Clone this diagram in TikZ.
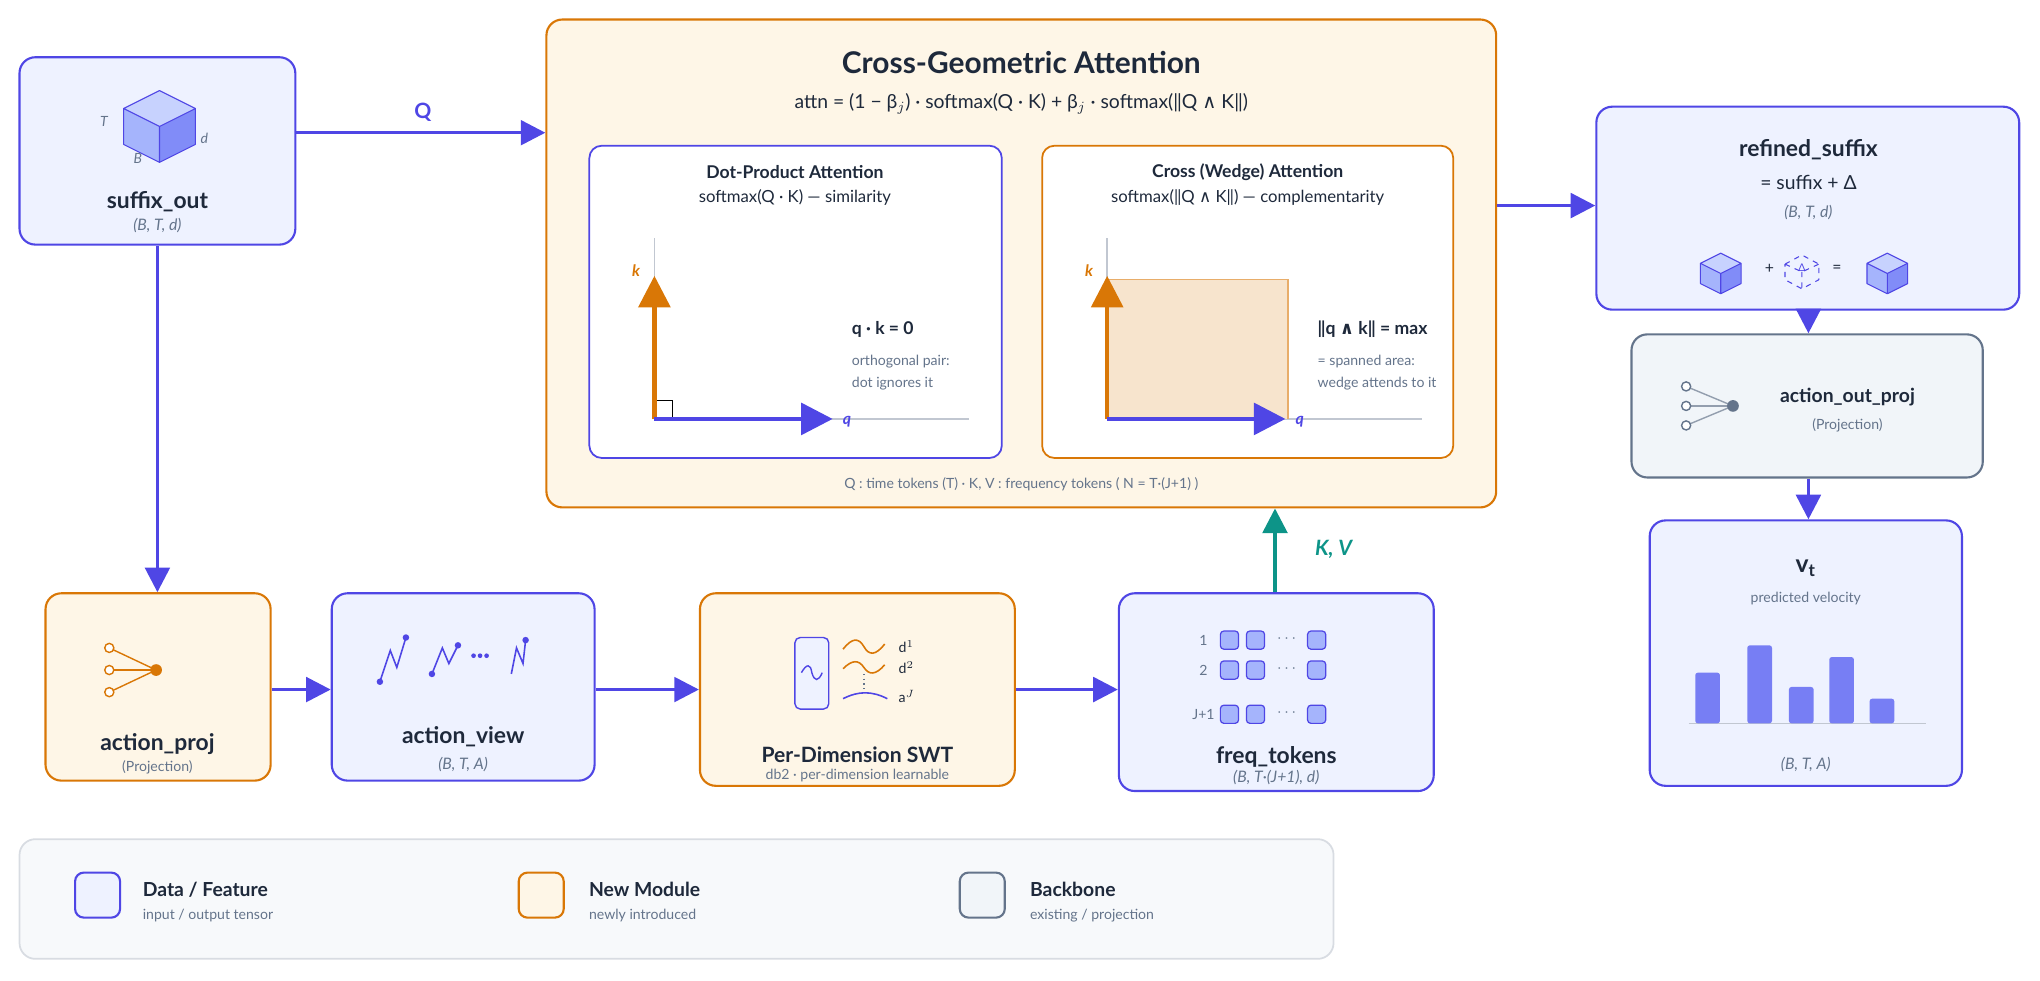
\documentclass[tikz,border=0pt]{standalone}
\usepackage{fontspec}
\setmainfont{Lato}
\newfontfamily\symfont{DejaVu Sans}
\newcommand{\wdg}{{\symfont ∧}}
\usepackage{tikz}
\usetikzlibrary{positioning,fit,arrows.meta}

\definecolor{ind}{HTML}{4F46E5}
\definecolor{indfill}{HTML}{EEF2FF}
\definecolor{org}{HTML}{D97706}
\definecolor{orgfill}{HTML}{FEF6E7}
\definecolor{gry}{HTML}{64748B}
\definecolor{gryfill}{HTML}{F1F5F9}
\definecolor{txt}{HTML}{1E293B}
\definecolor{sub}{HTML}{64748B}
\definecolor{teal}{HTML}{0D9488}
\definecolor{cubeA}{HTML}{A5B4FC}
\definecolor{cubeB}{HTML}{818CF8}
\definecolor{cubeC}{HTML}{C7D2FE}

\tikzset{
  databox/.style={draw=ind, fill=indfill, line width=1.2pt, rounded corners=9pt, inner sep=0pt},
  modbox/.style={draw=org, fill=orgfill, line width=1.2pt, rounded corners=9pt, inner sep=0pt},
  backbox/.style={draw=gry, fill=gryfill, line width=1.2pt, rounded corners=9pt, inner sep=0pt},
  panel/.style={draw=ind, fill=white, line width=1pt, rounded corners=7pt, inner sep=0pt},
  panelo/.style={draw=org, fill=white, line width=1pt, rounded corners=7pt, inner sep=0pt},
  flow/.style={draw=ind, line width=2pt, -{Triangle[length=14pt,width=14pt]}},
  lbl/.style={text=txt, font=\bfseries\fontsize{13}{15}\selectfont},
  dim/.style={text=sub, font=\itshape\fontsize{9}{11}\selectfont},
  note/.style={text=sub, font=\fontsize{8}{10}\selectfont},
  cube/.pic={
    \fill[cubeA] (-10,-2) -- (2,4) -- (2,16) -- (-10,10) -- cycle;
    \fill[cubeC] (-10,-2) -- (2,-8) -- (14,-2) -- (2,4) -- cycle;
    \fill[cubeB] (2,4) -- (14,-2) -- (14,10) -- (2,16) -- cycle;
    \draw[ind, line width=0.6pt, line join=round] (-10,-2) -- (2,-8) -- (14,-2) -- (14,10) -- (2,16) -- (-10,10) -- cycle
      (-10,-2) -- (2,4) -- (14,-2) (2,4) -- (2,16);
  }
}

\begin{document}
\begin{tikzpicture}[x=0.026cm, y=-0.026cm]
\useasboundingbox (0,0) rectangle (1568,754);

% main boxes
\node[databox, fit={(15,44) (227,188)}] (suffix) {};
\node[modbox, fit={(420,15) (1150,390)}] (attn) {};
\node[databox, fit={(1227,82) (1552,238)}] (refined) {};
\node[backbox, fit={(1254,257) (1524,367)}] (outproj) {};
\node[databox, fit={(1268,400) (1508,604)}] (vel) {};
\node[modbox, fit={(35,456) (208,600)}] (proj) {};
\node[databox, fit={(255,456) (457,600)}] (view) {};
\node[modbox, fit={(538,456) (780,604)}] (swt) {};
\node[databox, fit={(860,456) (1102,608)}] (freq) {};

% suffix_out
\pic[scale=2.3] at (118,88) {cube};
\node[text=sub, font=\itshape\fontsize{8}{10}\selectfont] at (80,93) {T};
\node[text=sub, font=\itshape\fontsize{8}{10}\selectfont] at (106,122) {B};
\node[text=sub, font=\itshape\fontsize{8}{10}\selectfont] at (157,106) {d};
\node[lbl] at (121,155) {suffix\_out};
\node[dim] at (121,173) {(B, T, d)};

% attention box
\node[text=txt, font=\bfseries\fontsize{17}{20}\selectfont] at (785,48) {Cross-Geometric Attention};
\node[text=txt, font=\fontsize{11}{13}\selectfont] at (785,80) {attn = (1 − β$_j$) · softmax(Q · K) + β$_j$ · softmax(‖Q \wdg{} K‖)};
\node[panel, fit={(453,112) (770,352)}] (dotp) {};
\node[panelo, fit={(801,112) (1117,352)}] (wedge) {};
\node[text=txt, font=\bfseries\fontsize{10}{12}\selectfont] at (611,132) {Dot-Product Attention};
\node[text=txt, font=\fontsize{9.5}{11}\selectfont] at (611,152) {softmax(Q · K) — similarity};
\node[text=txt, font=\bfseries\fontsize{10}{12}\selectfont] at (959,132) {Cross (Wedge) Attention};
\node[text=txt, font=\fontsize{9.5}{11}\selectfont] at (959,152) {softmax(‖Q \wdg{} K‖) — complementarity};
\node[note] at (785,372) {Q : time tokens (T) · K, V : frequency tokens ( N = T·(J+1) )};

% dot product axes
\draw[gry!40, line width=0.8pt] (503,322) -- (503,183) (503,322) -- (745,322);
\draw[black, line width=0.6pt] (503,308) -| (517,322);
\draw[org, line width=2.5pt, -{Triangle[length=18pt,width=18pt]}] (503,322) -- (503,212);
\draw[ind, line width=2.5pt, -{Triangle[length=18pt,width=18pt]}] (503,322) -- (640,322);
\node[text=org, font=\bfseries\itshape\fontsize{9}{11}\selectfont] at (489,208) {k};
\node[text=ind, font=\bfseries\itshape\fontsize{9}{11}\selectfont] at (651,324) {q};
\node[text=txt, font=\bfseries\fontsize{10}{12}\selectfont, anchor=west] at (650,253) {q · k = 0};
\node[note, anchor=west] at (650,278) {orthogonal pair:};
\node[note, anchor=west] at (650,295) {dot ignores it};

% wedge axes
\draw[gry!40, line width=0.8pt] (851,322) -- (851,183) (851,322) -- (1093,322);
\fill[org!20] (851,215) rectangle (990,322);
\draw[org!60, line width=0.8pt] (851,215) -- (990,215) -- (990,322);
\draw[org, line width=2.5pt, -{Triangle[length=18pt,width=18pt]}] (851,322) -- (851,212);
\draw[ind, line width=2.5pt, -{Triangle[length=18pt,width=18pt]}] (851,322) -- (988,322);
\node[text=org, font=\bfseries\itshape\fontsize{9}{11}\selectfont] at (837,208) {k};
\node[text=ind, font=\bfseries\itshape\fontsize{9}{11}\selectfont] at (999,324) {q};
\node[text=txt, font=\bfseries\fontsize{10}{12}\selectfont, anchor=west] at (1008,253) {‖q \wdg{} k‖ = max};
\node[note, anchor=west] at (1008,278) {= spanned area:};
\node[note, anchor=west] at (1008,295) {wedge attends to it};

% refined_suffix
\node[lbl] at (1390,115) {refined\_suffix};
\node[text=txt, font=\fontsize{11}{13}\selectfont] at (1390,140) {= suffix + Δ};
\node[dim] at (1390,163) {(B, T, d)};
\pic[scale=1.3] at (1320,205) {cube};
\node[text=txt, font=\fontsize{9}{11}\selectfont] at (1360,207) {+};
\draw[ind, dashed, line width=0.6pt, line join=round] (1372,203) -- (1385,196) -- (1398,203) -- (1398,215) -- (1385,222) -- (1372,215) -- cycle
  (1372,203) -- (1385,209) -- (1398,203) (1385,209) -- (1385,222);
\node[text=ind, font=\fontsize{6}{7}\selectfont] at (1385,206) {Δ};
\node[text=txt, font=\fontsize{9}{11}\selectfont] at (1412,207) {=};
\pic[scale=1.3] at (1448,205) {cube};

% action_out_proj
\foreach \yy in {297,312,327} {
  \draw[gry!70, line width=0.8pt] (1296,\yy) -- (1332,312);
  \draw[gry, fill=white, line width=0.8pt] (1296,\yy) circle (3.5);
}
\fill[gry] (1332,312) circle (4.5);
\node[lbl, font=\bfseries\fontsize{11}{13}\selectfont] at (1420,305) {action\_out\_proj};
\node[note] at (1420,327) {(Projection)};

% v_t
\node[text=txt, font=\bfseries\fontsize{14}{16}\selectfont] at (1388,437) {v$_{\mathbf t}$};
\node[note] at (1388,460) {predicted velocity};
\draw[gry!40, line width=0.8pt] (1298,556) -- (1480,556);
\foreach \xx/\hh in {1303/517,1343/496,1375/528,1406/505,1437/537}
  \fill[cubeB!80!ind, rounded corners=1.5pt] (\xx,556) rectangle ++(19,\hh-556);
\node[dim] at (1388,588) {(B, T, A)};

% action_proj
\foreach \yy in {498,515,532} {
  \draw[org, line width=0.8pt] (84,\yy) -- (120,515);
  \draw[org, fill=white, line width=0.8pt] (84,\yy) circle (3.5);
}
\fill[org] (120,515) circle (4.5);
\node[lbl] at (121,572) {action\_proj};
\node[note] at (121,590) {(Projection)};

% action_view
\draw[ind, line width=0.9pt] (292,524) -- (300,500) -- (305,513) -- (312,490);
\fill[ind] (292,524) circle (2.5) (312,490) circle (2.5);
\draw[ind, line width=0.9pt] (332,518) -- (340,498) -- (345,510) -- (352,496);
\fill[ind] (332,518) circle (2.5) (352,496) circle (2.5);
\foreach \xx in {364,369,374} \fill[ind] (\xx,504) circle (1.8);
\draw[ind, line width=0.9pt] (393,518) -- (397,498) -- (402,510) -- (404,492);
\fill[ind] (404,492) circle (2.5);
\node[lbl] at (356,566) {action\_view};
\node[dim] at (356,588) {(B, T, A)};

% per-dimension SWT
\draw[ind, fill=indfill, line width=0.8pt, rounded corners=3pt] (611,490) rectangle (637,545);
\draw[ind, line width=0.8pt] (616,517) .. controls (620,510) and (623,510) .. (624,517) .. controls (626,524) and (629,524) .. (632,517);
\draw[org, line width=0.9pt] (648,499) .. controls (655,490) and (660,490) .. (664,497) .. controls (668,504) and (673,504) .. (680,495);
\draw[org, line width=0.9pt] (648,514) .. controls (655,507) and (660,507) .. (664,513) .. controls (668,519) and (673,519) .. (680,511);
\draw[gry, dotted, line width=0.7pt] (664,518) -- (664,530);
\draw[ind, line width=0.9pt] (648,537) .. controls (660,531) and (670,531) .. (682,537);
\node[text=txt, font=\fontsize{8}{10}\selectfont, anchor=west] at (686,497) {d$^1$};
\node[text=txt, font=\fontsize{8}{10}\selectfont, anchor=west] at (686,513) {d$^2$};
\node[text=txt, font=\fontsize{8}{10}\selectfont, anchor=west] at (686,535) {a$^J$};
\node[lbl, font=\bfseries\fontsize{12}{14}\selectfont] at (659,580) {Per-Dimension SWT};
\node[note] at (659,596) {db2 · per-dimension learnable};

% freq_tokens
\foreach \yy/\rr in {492/1,515/2,549/J+1} {
  \node[note] at (925,\yy) {\rr};
  \foreach \xx in {945,965,1012}
    \draw[ind, fill=cubeA, line width=0.7pt, rounded corners=2pt] (\xx-7,\yy-7) rectangle (\xx+7,\yy+7);
  \node[text=sub, font=\fontsize{9}{11}\selectfont] at (989,\yy-1) {$\cdots$};
}
\node[lbl] at (981,582) {freq\_tokens};
\node[dim] at (981,598) {(B, T·(J+1), d)};

% connectors
\draw[flow] (suffix.east |- 0,102) -- (attn.west |- 0,102);
\node[text=ind, font=\bfseries\fontsize{12}{14}\selectfont] at (325,86) {Q};
\draw[flow] (attn.east |- 0,158) -- (refined.west |- 0,158);
\draw[flow] (refined.south -| 1390,0) -- (outproj.north -| 1390,0);
\draw[flow] (outproj.south -| 1390,0) -- (vel.north -| 1390,0);
\draw[flow] (suffix.south) -- (suffix.south |- proj.north);
\draw[flow] (proj.east |- 0,530) -- (view.west |- 0,530);
\draw[flow] (view.east |- 0,530) -- (swt.west |- 0,530);
\draw[flow] (swt.east |- 0,530) -- (freq.west |- 0,530);
\draw[teal, line width=2pt, -{Triangle[length=14pt,width=14pt]}] (freq.north -| 980,0) -- (attn.south -| 980,0);
\node[text=teal, font=\bfseries\itshape\fontsize{12}{14}\selectfont] at (1025,422) {K, V};

% legend
\node[draw=gry!25, fill=gryfill!60, line width=1pt, rounded corners=9pt, inner sep=0pt, fit={(15,645) (1025,737)}] (legend) {};
\node[databox, rounded corners=5pt, minimum size=0.9cm] (lgdata) at (75,688) {};
\node[anchor=north west, text=txt, font=\bfseries\fontsize{11}{13}\selectfont] at (105,673) {Data / Feature};
\node[anchor=north west, note] at (105,694) {input / output tensor};
\node[modbox, rounded corners=5pt, minimum size=0.9cm] (lgmod) at (416,688) {};
\node[anchor=north west, text=txt, font=\bfseries\fontsize{11}{13}\selectfont] at (448,673) {New Module};
\node[anchor=north west, note] at (448,694) {newly introduced};
\node[backbox, rounded corners=5pt, minimum size=0.9cm] (lgback) at (755,688) {};
\node[anchor=north west, text=txt, font=\bfseries\fontsize{11}{13}\selectfont] at (787,673) {Backbone};
\node[anchor=north west, note] at (787,694) {existing / projection};
\end{tikzpicture}
\end{document}
